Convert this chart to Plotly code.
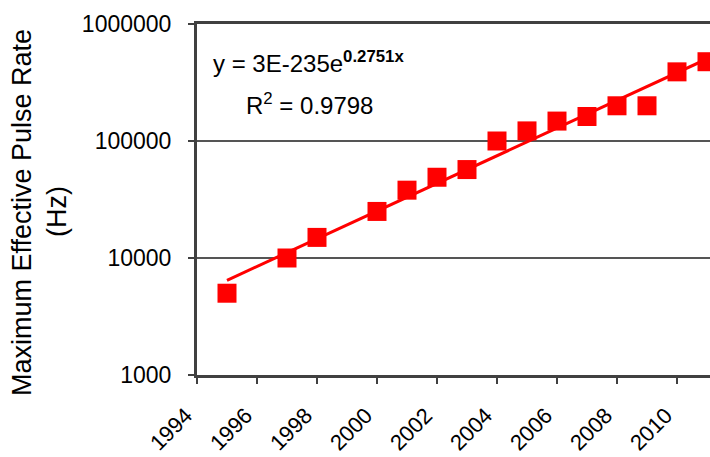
import numpy as np
import plotly.graph_objects as go

# Data
years = [1995, 1997, 1998, 2000, 2001, 2002, 2003, 2004, 2005, 2006, 2007, 2008, 2009, 2010, 2011]
pulse_rate = [5000, 10000, 15000, 25000, 38000, 49000, 57000, 100000, 122000, 148000, 162000, 200000, 200000, 390000, 476000]

x_tick_vals = [1994, 1996, 1998, 2000, 2002, 2004, 2006, 2008, 2010]
x_tick_text = ["1994", "1996", "1998", "2000", "2002", "2004", "2006", "2008", "2010"]
y_tick_vals = [1000, 10000, 100000, 1000000]
y_tick_text = ["1000", "10000", "100000", "1000000"]

eq_text = "y = 3E-235e<sup><b>0.2751x</b></sup>"
r2_text = "R<sup>2</sup> = 0.9798"
y_title_1 = "Maximum Effective Pulse Rate"
y_title_2 = "(Hz)"

# Exponential trendline (least squares on log values, like Excel)
b, a = np.polyfit(np.array(years, dtype=float), np.log(np.array(pulse_rate, dtype=float)), 1)
fit_x = np.array([years[0], 2011.6])
fit_y = np.exp(a + b * fit_x)

W, H = 710, 457
L, R, T, B = 197, 0, 24, 82
pw, ph = W - L - R, H - T - B

def px_x(px):
    return (px - L) / pw

def px_y(py):
    return (H - B - py) / ph

font_family = "Arial, Liberation Sans, sans-serif"

fig = go.Figure()
fig.add_trace(go.Scatter(x=fit_x, y=fit_y, mode="lines",
                         line=dict(color="#FF0000", width=3), showlegend=False))
fig.add_trace(go.Scatter(x=years, y=pulse_rate, mode="markers",
                         marker=dict(symbol="square", size=19, color="#FF0000",
                                     line=dict(width=0)), showlegend=False))

fig.update_layout(
    width=W, height=H,
    margin=dict(l=L, r=R, t=T, b=B, autoexpand=False),
    paper_bgcolor="white", plot_bgcolor="white",
    font=dict(family=font_family, size=23, color="black"),
    xaxis=dict(range=[1994, 1994 + pw / 30.0], tickvals=x_tick_vals, ticktext=x_tick_text,
               tickangle=-45, showgrid=False, zeroline=False, automargin=False,
               showline=True, linecolor="#404040", linewidth=3, mirror=True,
               ticks="outside", ticklen=6, tickcolor="#404040", tickwidth=1.5,
               ticklabelstandoff=10, ticklabelshift=-11,
               tickfont=dict(size=22)),
    yaxis=dict(type="log", range=[3, 6], tickvals=y_tick_vals, ticktext=y_tick_text,
               showgrid=True, gridcolor="#555555", gridwidth=1.5, zeroline=False,
               automargin=False,
               showline=True, linecolor="#404040", linewidth=3,
               ticks="outside", ticklen=6, tickcolor="#404040", tickwidth=1.5,
               ticklabelstandoff=12, tickfont=dict(size=23)),
)

fig.add_annotation(xref="paper", yref="paper", x=px_x(22), y=px_y(213),
                   text=y_title_1, textangle=-90, showarrow=False,
                   xanchor="center", yanchor="middle", font=dict(size=27))
fig.add_annotation(xref="paper", yref="paper", x=px_x(57), y=px_y(212),
                   text=y_title_2, textangle=-90, showarrow=False,
                   xanchor="center", yanchor="middle", font=dict(size=27))
fig.add_annotation(xref="paper", yref="paper", x=px_x(211), y=px_y(62),
                   text=eq_text, showarrow=False, xanchor="left", yanchor="middle",
                   font=dict(size=24))
fig.add_annotation(xref="paper", yref="paper", x=px_x(244), y=px_y(104),
                   text=r2_text, showarrow=False, xanchor="left", yanchor="middle",
                   font=dict(size=24))

fig.write_html("out.html", config={"displayModeBar": False},
               post_script="document.body.style.margin='0';document.body.style.overflow='hidden';")
